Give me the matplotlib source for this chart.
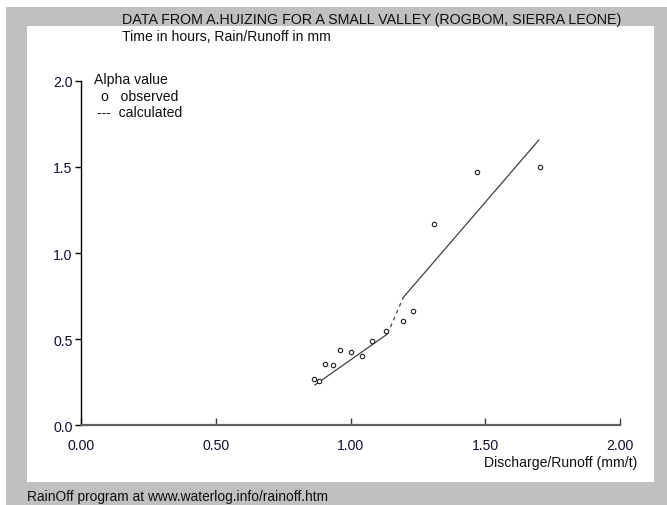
import matplotlib
matplotlib.use("Agg")
import matplotlib.pyplot as plt
from matplotlib.patches import Rectangle

plt.rcParams['font.family'] = ['Liberation Sans', 'DejaVu Sans']

# observed alpha values
obs_x = [0.866, 0.883, 0.907, 0.934, 0.962, 1.002, 1.043, 1.081, 1.133, 1.195, 1.233, 1.311, 1.470, 1.702]
obs_y = [0.267, 0.254, 0.355, 0.349, 0.436, 0.424, 0.403, 0.486, 0.548, 0.605, 0.665, 1.170, 1.471, 1.502]

# calculated alpha (piecewise)
calc1_x = [0.868, 1.137]
calc1_y = [0.233, 0.529]
calc2_x = [1.137, 1.196]
calc2_y = [0.529, 0.742]
calc3_x = [1.196, 1.699]
calc3_y = [0.742, 1.657]

xticks = [0.0, 0.5, 1.0, 1.5, 2.0]
xticklabels = ["0.00", "0.50", "1.00", "1.50", "2.00"]
yticks = [0.0, 0.5, 1.0, 1.5, 2.0]
yticklabels = ["0.0", "0.5", "1.0", "1.5", "2.0"]

W, H = 667, 506
FS = 10.1
fig = plt.figure(figsize=(W / 100, H / 100), dpi=100)
fig.patch.set_facecolor("white")

def rect(x0, y0, x1, y1, color):
    fig.patches.append(Rectangle((x0 / W, 1 - y1 / H), (x1 - x0) / W, (y1 - y0) / H,
                                 transform=fig.transFigure, facecolor=color,
                                 edgecolor="none", zorder=-10))

rect(6, 8, 667, 506, "#c0c0c0")
rect(27, 27, 654, 483, "white")

ax = fig.add_axes([81 / W, 1 - 426 / H, (620 - 81) / W, (426 - 82) / H])
ax.set_facecolor("none")
ax.set_xlim(0, 2.0)
ax.set_ylim(0, 2.0)

ax.plot(calc1_x, calc1_y, color="#404040", lw=0.9)
ax.plot(calc2_x, calc2_y, color="#404040", lw=0.9, ls=(0, (3, 3)))
ax.plot(calc3_x, calc3_y, color="#404040", lw=0.9)
ax.plot(obs_x, obs_y, ls="none", marker="o", ms=3.2, mfc="white", mec="#202020", mew=0.8)

for s in ["top", "right"]:
    ax.spines[s].set_visible(False)
ax.spines["left"].set_color("black")
ax.spines["left"].set_linewidth(1.0)
ax.spines["bottom"].set_color("#606060")
ax.spines["bottom"].set_linewidth(1.6)

ax.set_xticks(xticks)
ax.set_xticklabels(xticklabels)
ax.set_yticks(yticks)
ax.set_yticklabels(yticklabels)
ax.tick_params(axis="x", direction="in", length=5, width=1.0, color="#404040", pad=9,
               labelsize=FS, labelcolor="#101030")
ax.tick_params(axis="y", direction="out", length=4, width=1.0, color="black", pad=2,
               labelsize=FS, labelcolor="#101030")

def ftext(x, y, s, fs=FS, **kw):
    fig.text(x / W, 1 - y / H, s, fontsize=fs, color="#101010", va="center", **kw)

ftext(122, 20, "DATA FROM A.HUIZING FOR A SMALL VALLEY (ROGBOM, SIERRA LEONE)", fs=10.25, ha="left")
ftext(122, 37, "Time in hours, Rain/Runoff in mm", ha="left")
ftext(94, 80, "Alpha value", ha="left")
ftext(101, 97, "o   observed", ha="left")
ftext(97, 113, "---  calculated", ha="left")
ftext(637, 463, "Discharge/Runoff (mm/t)", ha="right")
ftext(27, 497, "RainOff program at www.waterlog.info/rainoff.htm", fs=9.9, ha="left")

fig.savefig("out.png", dpi=100, facecolor=fig.get_facecolor())
